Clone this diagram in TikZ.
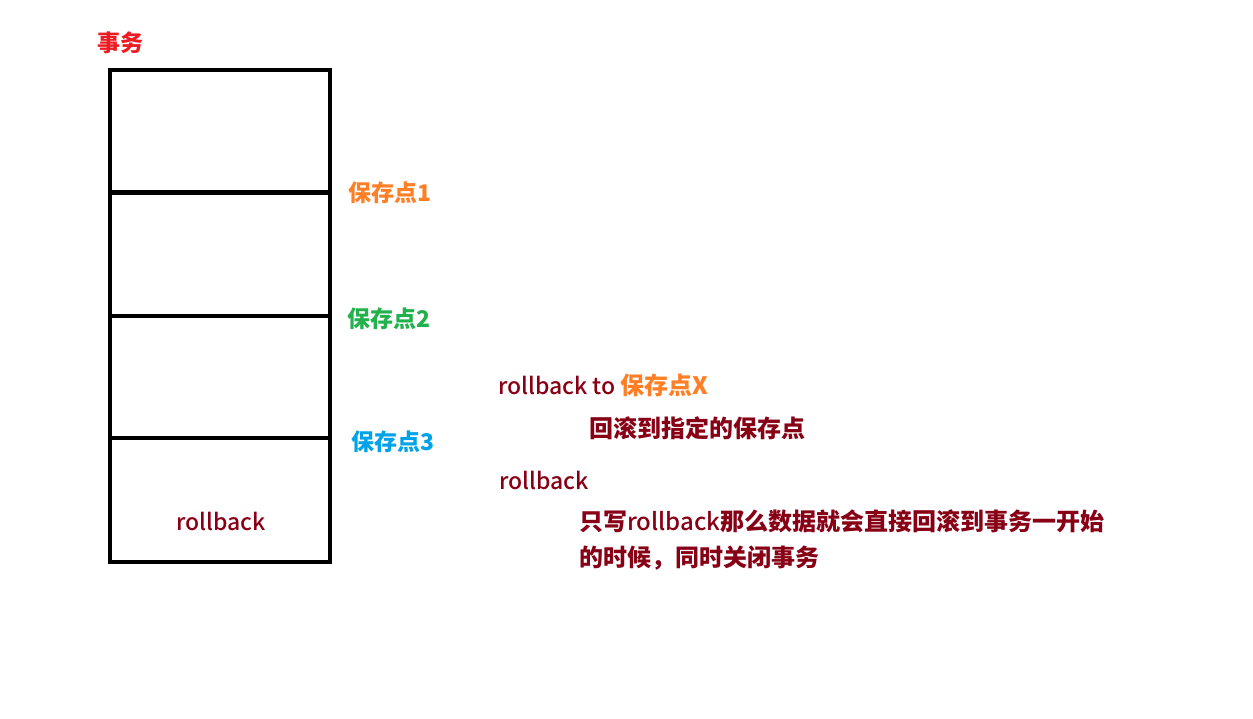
\documentclass[tikz,border=0pt]{standalone}
\usepackage{fontspec}
\newfontfamily\cjk{Noto Sans CJK SC}
\newfontfamily\cjkmed{Noto Sans CJK SC Medium}
\definecolor{tred}{RGB}{237,28,36}
\definecolor{torange}{RGB}{255,127,39}
\definecolor{tgreen}{RGB}{34,177,76}
\definecolor{tblue}{RGB}{0,162,232}
\definecolor{tmaroon}{RGB}{136,0,21}
\begin{document}
\begin{tikzpicture}[x=1pt,y=-1pt,
  txt/.style={inner sep=0pt,font=\cjk\fontsize{23}{28}\selectfont\bfseries},
  big/.style={inner sep=0pt,font=\cjk\fontsize{24}{28}\selectfont\bfseries},
  reg/.style={inner sep=0pt,font=\cjkmed\fontsize{23}{28}\selectfont},
  slot/.style={draw=black,line width=4pt,minimum width=220pt,inner sep=0pt}]
\useasboundingbox[fill=white] (0,0) rectangle (1253,719);
% stacked boxes
\node[slot,minimum height=122pt] (b1) at (220,131) {};
\node[slot,minimum height=123pt] (b2) at (220,254.5) {};
\node[slot,minimum height=122pt] (b3) at (220,377) {};
\node[slot,minimum height=124pt] (b4) at (220,500) {};
\node[reg,text=tmaroon] (rbbox) at (221,521) {rollback};
% labels
\node[txt,text=tred,anchor=west] (title) at (97,43) {事务};
\node[txt,text=torange,anchor=west] (s1) at (348,193) {保存点1};
\node[txt,text=tgreen,anchor=west] (s2) at (347,319) {保存点2};
\node[txt,text=tblue,anchor=west] (s3) at (351,442) {保存点3};
% explanations
\node[reg,text=tmaroon,anchor=west] (rbto) at (498,385) {rollback to {\cjk\fontsize{24}{28}\selectfont\bfseries\color{torange}保存点X}};
\node[big,text=tmaroon,anchor=west] (d1) at (589,428) {回滚到指定的保存点};
\node[reg,text=tmaroon,anchor=west] (rb) at (499,480) {rollback};
\node[big,text=tmaroon,anchor=west] (d2) at (579,521) {只写{\cjkmed\mdseries rollback}那么数据就会直接回滚到事务一开始};
\node[big,text=tmaroon,anchor=west] (d3) at (579,558) {的时候，同时关闭事务};
\end{tikzpicture}
\end{document}
